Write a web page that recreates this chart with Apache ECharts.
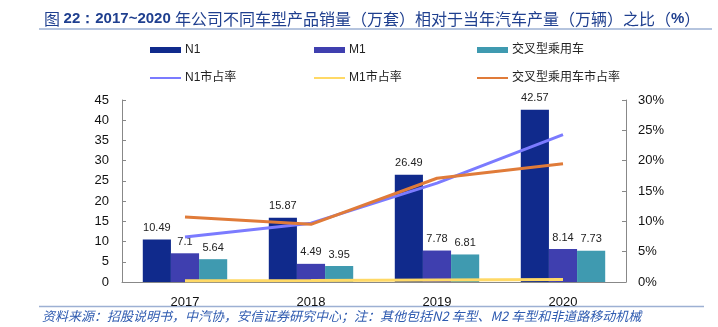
<!DOCTYPE html>
<html><head><meta charset="utf-8">
<script src="https://cdn.jsdelivr.net/npm/echarts@6/dist/echarts.min.js"></script>
<style>html,body{margin:0;padding:0;background:#fff;}#c{width:718px;height:327px;}</style>
</head><body><div id="c"></div>
<script>
var categories = ['2017', '2018', '2019', '2020'];
var n1Sales = [10.49, 15.87, 26.49, 42.57];
var m1Sales = [7.1, 4.49, 7.78, 8.14];
var crossSales = [5.64, 3.95, 6.81, 7.73];
var n1Share = [7.4, 9.7, 16.3, 24.3];
var m1Share = [0.2, 0.25, 0.35, 0.4];
var crossShare = [10.7, 9.5, 17.1, 19.5];
var leftTicks = [0, 45, 5];
var rightTicks = [0, 30, 5];

var C = {n1:'#102A8C', m1:'#3F3FAF', cross:'#3F9AB0', n1l:'#7B7BFF', m1l:'#FFD966', crossl:'#E07B39'};
var font = 'Liberation Sans, Arial, Noto Sans CJK SC, sans-serif';
var chart = echarts.init(document.getElementById('c'));
function lg(name, left, top, isBar){
  return {data:[{name:name, icon:'rect'}], left:left, top:top, itemWidth:31, itemHeight: isBar?6:2, itemGap:0,
    textStyle:{fontSize:12, color:'#222', fontFamily:font, padding:[0,0,0,-1]}, selectedMode:false};
}
var lblStyle = {show:true, position:'top', distance:6, fontSize:11, color:'#222', fontFamily:font};
chart.setOption({
  animation:false,
  textStyle:{fontFamily:font},
  title:{
    left:39, top:6,
    text:'{a|图 }{b|22：2017~2020 }{a|年公司不同车型产品销量（万套）相对于当年汽车产量（万辆）之比（}{b|%}{a|）}',
    textStyle:{fontWeight:'normal', rich:{
      a:{fontSize:16, color:'#1F3F8F', fontWeight:'normal', fontFamily:'Noto Sans CJK SC, sans-serif'},
      b:{fontSize:15, color:'#1F3F8F', fontWeight:'bold', fontFamily:'Liberation Sans, Arial, sans-serif'}
    }}
  },
  legend:[
    lg('N1',145,39,true), lg('M1',309,39,true), lg('交叉型乘用车',472,39,true),
    lg('N1市占率',145,67,false), lg('M1市占率',309,67,false), lg('交叉型乘用车市占率',472,67,false)
  ],
  graphic:[
    {type:'line', shape:{x1:39,y1:29,x2:712,y2:29}, style:{stroke:'#9DB0D3', lineWidth:1.5}},
    {type:'line', shape:{x1:39,y1:306.5,x2:704,y2:306.5}, style:{stroke:'#9DB0D3', lineWidth:1.5}},
    {type:'text', left:42, top:310, style:{text:'资料来源：招股说明书，中汽协，安信证券研究中心；注：其他包括N2 车型、M2 车型和非道路移动机械',
      fill:'#2F5BB0', fontSize:13, fontStyle:'italic', fontFamily:'Noto Sans CJK SC, sans-serif'}}
  ],
  grid:{left:122, right:92, top:100, bottom:45},
  xAxis:{type:'category', data:categories, boundaryGap:true,
    axisLine:{lineStyle:{color:'#888'}}, axisTick:{inside:true, length:3, lineStyle:{color:'#888'}},
    axisLabel:{fontSize:13, color:'#111', margin:14, fontFamily:font}},
  yAxis:[
    {type:'value', min:leftTicks[0], max:leftTicks[1], interval:leftTicks[2], position:'left',
     axisLine:{show:true, lineStyle:{color:'#888'}}, axisTick:{show:true, inside:true, length:4, lineStyle:{color:'#888'}},
     splitLine:{show:false}, axisLabel:{fontSize:13, color:'#111', margin:13, fontFamily:font}},
    {type:'value', min:rightTicks[0], max:rightTicks[1], interval:rightTicks[2], position:'right',
     axisLine:{show:true, lineStyle:{color:'#888'}}, axisTick:{show:true, inside:true, length:4, lineStyle:{color:'#888'}},
     splitLine:{show:false}, axisLabel:{fontSize:13, color:'#111', margin:12, formatter:'{value}%', fontFamily:font}}
  ],
  series:[
    {name:'N1', type:'bar', data:n1Sales, barGap:'0%', barCategoryGap:'33%', itemStyle:{color:C.n1}, label:lblStyle},
    {name:'M1', type:'bar', data:m1Sales, itemStyle:{color:C.m1}, label:lblStyle},
    {name:'交叉型乘用车', type:'bar', data:crossSales, itemStyle:{color:C.cross}, label:lblStyle},
    {name:'N1市占率', type:'line', yAxisIndex:1, data:n1Share, symbol:'none', lineStyle:{color:C.n1l, width:3}, itemStyle:{color:C.n1l}},
    {name:'M1市占率', type:'line', yAxisIndex:1, data:m1Share, symbol:'none', lineStyle:{color:C.m1l, width:3}, itemStyle:{color:C.m1l}},
    {name:'交叉型乘用车市占率', type:'line', yAxisIndex:1, data:crossShare, symbol:'none', lineStyle:{color:C.crossl, width:3}, itemStyle:{color:C.crossl}}
  ]
});
</script></body></html>
